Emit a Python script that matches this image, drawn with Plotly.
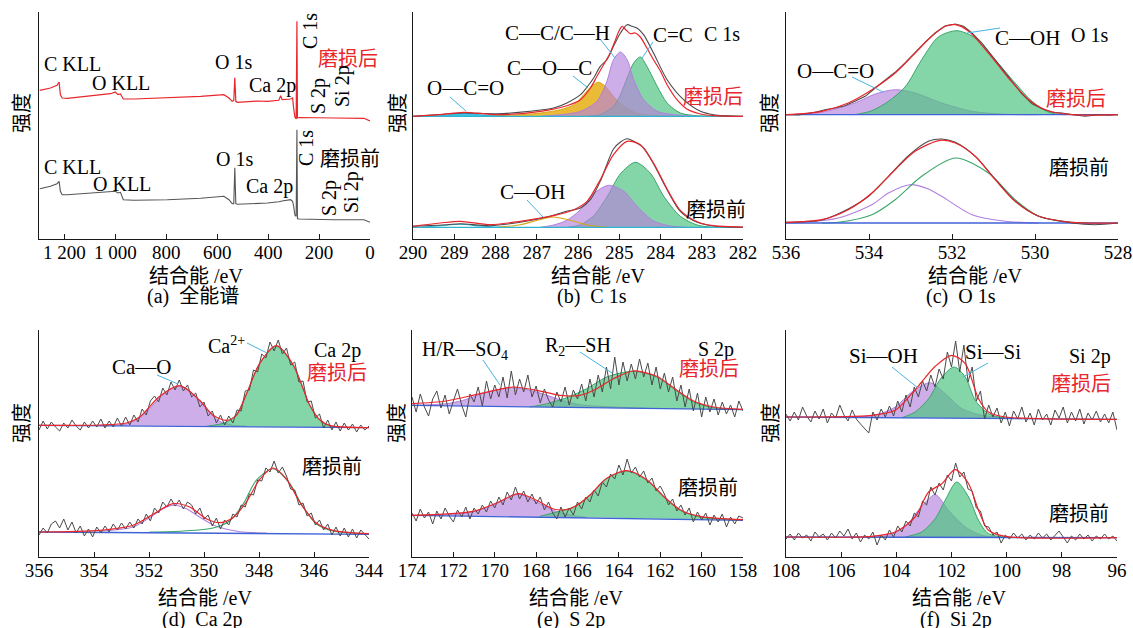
import numpy as np
import plotly.graph_objects as go

W, H = 1133, 628
SERIF = "Liberation Serif, Times New Roman, Noto Sans CJK SC, serif"
RED = "#e8262b"
GRAY = "#4a4a4a"
GREEN_F = "rgba(80,195,130,0.70)"
GREEN_L = "#3aa56a"
PURPLE_F = "rgba(180,130,220,0.65)"
PURPLE_L = "#b07fe0"
YELLOW_F = "rgba(230,175,20,0.85)"
YELLOW_L = "#d9a514"
CYAN_F = "rgba(40,190,230,0.90)"
CYAN_L = "#2bb5d8"
BLUE = "#3f63d6"
LEADER = "#45b3e0"

# ---------------- (a) survey spectra ----------------
survey_ev = [1297, 1255, 1229, 1221, 1216, 1209, 1189, 1111, 1019, 1000, 990, 980, 969, 927, 796, 665, 574,
             554, 541, 535, 531, 527, 521, 443, 403, 358, 351, 345, 312, 304, 300, 295, 290, 287, 285, 279,
             141, 24, 0]
survey_after = [148.7, 151, 153.7, 157, 144.3, 141, 140.7, 142.7, 145.3, 147, 144.3, 145, 140, 140, 141, 142.7,
                144.3, 141, 137.7, 138.5, 161.3, 137.7, 136.7, 138, 137.7, 138.7, 143.3, 139.3, 140, 141, 131,
                122, 120, 217.7, 121, 121.5, 121, 120.7, 118]
survey_before = [50.3, 52.7, 55.3, 57.7, 47.7, 44.3, 44.3, 46, 47.7, 47.7, 46, 46.7, 39.3, 38.7, 39.3, 40.7,
                 42.7, 39.3, 35.3, 35.3, 71.3, 35.3, 34.7, 35.3, 36, 37.3, 38, 38, 39.3, 37.7, 33, 24, 22.7,
                 109.3, 20.5, 20, 19.3, 19.3, 16.7]

# ---------------- (b) C 1s ----------------
b_top_cyan_x = [289.74, 289.18, 288.73, 288.29, 287.72]
b_top_cyan_y = [122.7, 123.7, 126.3, 123.7, 122.7]
b_top_yellow_x = [288.37, 287.40, 286.91, 286.43, 286.10, 285.86, 285.66, 285.50, 285.34, 285.14, 284.89,
                  284.57, 284.08, 283.52]
b_top_yellow_y = [122.7, 124.3, 126.0, 129.3, 134.3, 144.3, 153.3, 156.7, 152.7, 142.7, 132.7, 126.0, 123.3,
                  122.7]
b_top_purple_x = [286.91, 286.27, 285.94, 285.54, 285.30, 285.14, 284.97, 284.81, 284.65, 284.41, 284.08,
                  283.68, 283.11]
b_top_purple_y = [122.7, 125.0, 127.7, 137.7, 157.7, 179.3, 187.0, 179.3, 159.3, 139.3, 127.7, 124.3, 122.7]
b_top_green_x = [285.80, 285.46, 285.14, 284.97, 284.81, 284.65, 284.49, 284.33, 284.08, 283.84, 283.52,
                 283.11, 282.71]
b_top_green_y = [122.7, 124.3, 132.7, 144.3, 161.0, 176.0, 182.0, 172.7, 152.7, 136.0, 126.0, 123.3, 122.7]
b_top_fit_x = [290.00, 289.34, 288.77, 287.96, 286.91, 286.27, 285.94, 285.70, 285.54, 285.38, 285.22, 285.09,
               285.01, 284.93, 284.83, 284.73, 284.61, 284.49, 284.33, 284.17, 284.00, 283.84, 283.60, 283.36,
               283.03, 282.71, 282.00]
b_top_fit_y = [122.7, 124.3, 126.7, 124.3, 127.7, 133.3, 139.3, 151.0, 162.7, 174.3, 186.0, 199.3, 207.7, 212.7,
               208.7, 205.3, 206.0, 202.0, 191.0, 179.3, 167.7, 154.3, 139.3, 130.0, 125.0, 123.3, 122.7]
b_top_raw_x = [290.00, 289.18, 288.77, 287.96, 287.16, 286.59, 286.27, 285.94, 285.78, 285.62, 285.46, 285.30,
               285.14, 284.97, 284.81, 284.69, 284.57, 284.41, 284.17, 283.84, 283.44, 283.03, 282.71, 282.00]
b_top_raw_y = [122.7, 125.0, 126.0, 125.3, 127.7, 131.0, 136.0, 144.3, 152.0, 161.0, 172.7, 179.3, 192.7, 206.0,
               214.3, 212.7, 211.0, 204.3, 186.0, 159.3, 139.3, 127.7, 124.3, 122.7]
b_bot_cyan_x = [289.82, 289.34, 288.85, 288.37, 287.88]
b_bot_cyan_y = [11.7, 13.3, 14.7, 13.0, 11.7]
b_bot_yellow_x = [287.96, 287.40, 286.99, 286.59, 286.19, 285.78, 285.30]
b_bot_yellow_y = [11.7, 14.3, 18.7, 22.0, 18.7, 14.0, 11.7]
b_bot_purple_x = [286.91, 286.59, 286.27, 285.94, 285.62, 285.26, 284.89, 284.57, 284.17, 283.76, 283.36]
b_bot_purple_y = [11.7, 14.0, 18.7, 29.3, 45.3, 53.7, 47.7, 32.7, 18.0, 13.0, 11.7]
b_bot_green_x = [286.27, 285.94, 285.62, 285.30, 284.97, 284.61, 284.25, 283.92, 283.52, 283.11, 282.71]
b_bot_green_y = [11.7, 14.3, 23.3, 42.0, 65.3, 76.7, 66.0, 42.7, 22.7, 14.0, 11.7]
b_bot_fit_x = [290.00, 289.34, 288.85, 288.13, 287.40, 286.91, 286.59, 286.10, 285.78, 285.46, 285.14, 284.81,
               284.49, 284.17, 283.84, 283.52, 283.11, 282.71, 282.00]
b_bot_fit_y = [12.7, 16.0, 17.7, 14.3, 17.7, 21.0, 23.3, 29.3, 37.7, 59.3, 84.3, 97.7, 94.3, 76.0, 50.0, 28.7,
               17.3, 13.3, 12.0]
b_bot_raw_x = [290.00, 289.18, 288.85, 288.13, 287.40, 286.75, 286.27, 285.94, 285.70, 285.46, 285.14, 284.97,
               284.81, 284.65, 284.41, 284.17, 283.84, 283.52, 283.11, 282.71, 282.00]
b_bot_raw_y = [12.7, 14.3, 15.3, 13.3, 16.7, 22.0, 27.7, 31.0, 39.3, 57.7, 90.0, 97.0, 100.3, 97.7, 91.0, 75.3,
               49.3, 27.7, 16.7, 13.0, 11.7]

# ---------------- (c) O 1s ----------------
c_top_purple_x = [536.00, 535.14, 534.34, 533.85, 533.37, 532.89, 532.25, 531.52, 530.72, 529.91]
c_top_purple_y = [124.3, 126.7, 136.0, 145.0, 149.3, 146.0, 136.0, 127.7, 124.7, 124.3]
c_top_green_x = [534.34, 533.93, 533.53, 533.13, 532.73, 532.33, 531.88, 531.44, 530.96, 530.48, 530.07,
                 529.67, 529.27]
c_top_green_y = [124.3, 128.3, 137.7, 152.0, 179.3, 202.0, 208.3, 201.0, 179.3, 156.0, 137.7, 126.7, 124.3]
c_top_fit_x = [536.00, 535.14, 534.50, 533.93, 533.37, 532.89, 532.49, 532.16, 531.92, 531.60, 531.12, 530.64,
               530.15, 529.75, 529.11, 528.00]
c_top_fit_y = [124.3, 127.7, 136.0, 149.3, 166.0, 186.0, 202.7, 212.7, 214.3, 207.7, 186.0, 161.0, 139.3, 129.3,
               124.3, 124.3]
c_top_raw_x = [536.00, 535.70, 535.30, 535.06, 534.82, 534.58, 534.34, 534.09, 533.85, 533.61, 533.37, 533.13,
               532.89, 532.65, 532.41, 532.16, 531.92, 531.72, 531.52, 531.28, 531.04, 530.80, 530.56, 530.32,
               530.07, 529.83, 529.59, 529.35, 529.03, 528.79, 528.47, 528.23, 528.00]
c_top_raw_y = [124.3, 124.0, 126.7, 129.3, 131.0, 133.3, 137.7, 142.7, 151.0, 159.3, 166.7, 176.0, 186.7, 196.7,
               206.0, 213.3, 215.0, 212.7, 206.0, 196.0, 183.3, 171.0, 157.7, 145.3, 135.3, 130.3, 126.7, 126.0,
               124.0, 122.7, 124.3, 123.7, 124.3]
c_bot_purple_x = [536.00, 535.54, 534.74, 533.93, 533.53, 533.01, 532.57, 532.25, 531.52, 530.72, 529.91]
c_bot_purple_y = [16.0, 16.7, 21.0, 34.3, 46.0, 54.3, 50.0, 42.7, 24.3, 17.7, 16.0]
c_bot_green_x = [535.14, 534.74, 533.93, 533.37, 532.73, 531.92, 531.12, 530.48, 529.91, 529.11, 528.71]
c_bot_green_y = [16.0, 16.7, 24.3, 39.3, 62.7, 81.0, 66.0, 39.3, 22.7, 16.7, 16.0]
c_bot_fit_x = [536.00, 535.14, 534.50, 533.93, 533.37, 532.89, 532.29, 531.92, 531.44, 530.96, 530.48, 529.91,
               529.11, 528.00]
c_bot_fit_y = [16.7, 19.3, 29.3, 46.0, 69.3, 87.7, 98.7, 96.0, 82.7, 59.3, 37.7, 22.7, 16.7, 16.0]
c_bot_raw_x = [536.00, 535.14, 534.50, 534.01, 533.53, 533.05, 532.57, 532.25, 531.92, 531.44, 530.96, 530.48,
               529.91, 529.11, 528.55, 528.00]
c_bot_raw_y = [16.7, 19.0, 30.0, 42.7, 62.7, 83.3, 97.7, 100.0, 96.7, 82.7, 60.0, 38.0, 22.7, 16.0, 14.3, 16.0]

# ---------------- (d) Ca 2p ----------------
d_energy = np.linspace(356, 344, 81)
d_top_purple_x = [353.79, 352.82, 352.34, 351.98, 351.61, 351.25, 350.88, 350.52, 350.16, 349.79, 349.43,
                  348.95, 348.46]
d_top_purple_y = [131.3, 133.0, 139.3, 148.3, 159.3, 167.3, 170.7, 166.0, 156.0, 144.0, 135.7, 131.7, 131.0]
d_top_green_x = [349.92, 349.19, 348.82, 348.46, 347.98, 347.37, 346.76, 346.46, 346.16, 345.79, 345.43, 345.07]
d_top_green_y = [130.7, 134.7, 142.7, 162.7, 193.3, 210.7, 191.7, 173.3, 151.7, 136.7, 131.0, 129.7]
d_top_fit_x = [356.00, 353.79, 352.82, 352.34, 351.61, 350.88, 350.16, 349.67, 349.19, 348.82, 348.46, 347.98,
               347.37, 346.76, 346.16, 345.79, 345.43, 344.00]
d_top_fit_y = [131.7, 132.0, 134.0, 140.0, 160.7, 171.3, 156.7, 141.7, 136.7, 141.7, 162.7, 193.3, 211.3, 192.3,
               152.3, 137.3, 131.7, 129.3]
d_top_raw = [127, 136, 128, 135, 130, 126, 134, 129, 137, 131, 127, 135, 129, 136, 130, 138, 129, 136, 130, 139,
             131, 140, 132, 142, 135, 148, 142, 156, 161, 155, 169, 162, 175, 167, 177, 166, 172, 160, 164, 150,
             155, 141, 146, 134, 142, 132, 141, 134, 147, 146, 166, 167, 187, 185, 203, 199, 215, 206, 217, 203,
             209, 192, 195, 175, 176, 155, 156, 139, 143, 129, 137, 127, 135, 126, 134, 127, 133, 125, 132, 127,
             131]
d_bot_purple_x = [353.79, 352.58, 351.98, 351.49, 351.13, 350.64, 350.16, 349.55, 348.70, 347.73]
d_bot_purple_y = [25.7, 30.0, 39.3, 48.3, 51.7, 48.3, 40.0, 30.7, 25.3, 24.0]
d_bot_green_x = [351.98, 350.76, 349.67, 349.07, 348.58, 348.10, 347.49, 346.88, 346.40, 345.92, 345.31, 344.00]
d_bot_green_y = [25.0, 26.0, 29.0, 36.0, 52.7, 76.7, 88.3, 73.3, 50.0, 33.3, 26.0, 23.3]
d_bot_fit_x = [356.00, 353.79, 352.58, 351.85, 351.13, 350.52, 349.92, 349.43, 348.95, 348.46, 347.98, 347.49,
               347.01, 346.52, 345.92, 345.31, 344.00]
d_bot_fit_y = [25.0, 26.7, 31.7, 42.7, 53.3, 50.0, 38.3, 34.3, 39.3, 55.0, 77.3, 89.0, 78.3, 55.0, 34.0, 26.7,
               23.3]
d_bot_raw = [22, 29, 24, 33, 36, 29, 38, 27, 35, 24, 31, 21, 28, 20, 30, 24, 31, 25, 33, 27, 34, 28, 35, 29, 38,
             33, 43, 36, 49, 44, 55, 50, 58, 51, 57, 48, 55, 52, 43, 49, 38, 42, 31, 39, 28, 37, 32, 43, 40, 52,
             50, 63, 62, 77, 76, 89, 85, 96, 84, 90, 81, 68, 67, 52, 54, 41, 44, 32, 37, 27, 33, 22, 30, 21, 29,
             20, 28, 19, 27, 22, 18]

# ---------------- (e) S 2p ----------------
e_energy = np.linspace(174, 158, 81)
e_top_purple_x = [174.00, 172.34, 171.53, 170.40, 169.11, 167.98, 166.85, 165.88, 164.26, 162.65]
e_top_purple_y = [151.7, 153.3, 156.7, 164.7, 169.3, 165.0, 157.3, 152.3, 150.0, 148.7]
e_top_green_x = [168.30, 167.49, 166.52, 165.56, 164.59, 163.30, 162.17, 161.36, 160.39, 159.42, 158.00]
e_top_green_y = [150.0, 153.3, 159.3, 168.3, 180.0, 185.7, 180.0, 168.3, 155.0, 149.3, 147.3]
e_top_fit_x = [174.00, 172.34, 170.72, 169.11, 167.98, 166.85, 165.88, 165.07, 164.26, 163.30, 162.17, 161.36,
               160.39, 159.42, 158.00]
e_top_fit_y = [153.3, 156.0, 163.3, 170.0, 166.7, 161.7, 161.7, 168.3, 178.3, 186.0, 180.7, 169.3, 156.0, 150.0,
               147.7]
e_top_raw = [160, 145, 163, 150, 141, 158, 166, 149, 162, 143, 156, 168, 152, 140, 163, 155, 170, 151, 176, 158,
             172, 160, 180, 159, 186, 162, 178, 165, 182, 160, 171, 154, 168, 157, 150, 165, 155, 170, 152, 167,
             158, 173, 156, 178, 160, 182, 165, 190, 168, 200, 172, 195, 176, 193, 178, 198, 180, 194, 172, 190,
             168, 184, 165, 180, 156, 172, 150, 168, 146, 164, 140, 160, 145, 158, 142, 155, 143, 152, 140, 156,
             146]
e_bot_purple_x = [173.14, 171.05, 169.92, 168.87, 167.98, 167.17, 166.52, 165.56]
e_bot_purple_y = [41.4, 45.0, 53.3, 62.7, 55.0, 46.7, 42.7, 39.5]
e_bot_green_x = [167.82, 167.01, 166.20, 165.39, 164.59, 163.62, 162.65, 161.84, 161.04, 160.07, 158.00]
e_bot_green_y = [40.7, 45.0, 50.0, 61.7, 78.3, 86.0, 76.7, 60.0, 46.7, 40.0, 36.7]
e_bot_fit_x = [174.00, 171.05, 169.92, 168.87, 167.98, 167.17, 166.52, 166.04, 165.39, 164.59, 163.62, 162.65,
               161.84, 161.04, 160.07, 158.00]
e_bot_fit_y = [41.7, 45.7, 54.0, 63.3, 56.7, 48.0, 47.5, 51.5, 62.3, 78.7, 86.3, 77.3, 60.7, 47.3, 40.7, 37.3]
e_bot_raw = [44, 36, 48, 39, 45, 33, 46, 38, 49, 41, 35, 47, 40, 50, 38, 49, 43, 52, 45, 56, 49, 60, 52, 65, 57,
             70, 58, 66, 55, 63, 53, 60, 47, 55, 44, 38, 50, 40, 49, 42, 55, 48, 60, 55, 67, 61, 75, 70, 83, 78,
             92, 82, 98, 84, 90, 80, 86, 74, 79, 66, 71, 63, 52, 58, 46, 52, 42, 49, 35, 45, 37, 44, 32, 42, 35,
             43, 30, 40, 33, 41, 39]

# ---------------- (f) Si 2p ----------------
f_energy = np.linspace(108, 96, 81)
f_top_purple_x = [105.50, 104.65, 104.04, 103.44, 102.77, 102.23, 101.62, 100.90, 99.93]
f_top_purple_y = [140.0, 142.7, 150.0, 165.0, 174.3, 163.3, 148.3, 141.7, 139.0]
f_top_green_x = [103.80, 103.32, 102.83, 102.35, 101.90, 101.50, 101.14, 100.66, 100.17, 99.45]
f_top_green_y = [139.3, 145.0, 158.3, 180.0, 190.0, 180.0, 156.7, 143.3, 139.3, 138.3]
f_top_fit_x = [108.00, 104.89, 104.04, 103.44, 103.08, 102.59, 101.99, 101.50, 101.02, 100.66, 100.05, 96.00]
f_top_fit_y = [140.0, 141.7, 146.7, 163.3, 175.0, 190.7, 201.7, 193.3, 158.3, 145.0, 140.0, 137.7]
f_top_raw = [143, 136, 145, 137, 150, 141, 135, 146, 138, 148, 134, 144, 139, 152, 142, 136, 147, 138, 133, 128,
             124, 145, 137, 148, 140, 151, 141, 156, 145, 162, 150, 170, 160, 176, 166, 182, 170, 188, 178, 205,
             190, 216, 185, 212, 175, 190, 156, 166, 138, 152, 140, 149, 134, 145, 131, 146, 138, 150, 135, 144,
             132, 148, 137, 143, 132, 147, 139, 150, 134, 145, 136, 148, 133, 144, 137, 146, 135, 143, 134, 145,
             127]
f_bot_purple_x = [104.89, 104.29, 103.68, 103.20, 102.59, 102.11, 101.50, 100.90, 100.17]
f_bot_purple_y = [20.0, 21.7, 30.0, 46.7, 62.3, 46.7, 30.0, 21.7, 19.7]
f_bot_green_x = [103.68, 103.08, 102.59, 102.23, 101.81, 101.38, 101.02, 100.66, 99.93]
f_bot_green_y = [20.0, 25.0, 38.3, 56.7, 75.0, 60.0, 36.7, 23.3, 19.7]
f_bot_fit_x = [108.00, 104.89, 104.04, 103.32, 102.83, 102.35, 101.87, 101.38, 101.02, 100.66, 100.05, 96.00]
f_bot_fit_y = [20.0, 20.7, 25.0, 40.0, 65.0, 73.3, 87.3, 73.3, 46.7, 26.7, 20.7, 19.3]
f_bot_raw = [18, 23, 17, 24, 19, 22, 16, 25, 20, 23, 17, 24, 19, 26, 21, 28, 18, 24, 15, 22, 18, 25, 12, 22, 17,
             27, 20, 31, 25, 36, 31, 44, 40, 56, 52, 70, 62, 74, 67, 82, 76, 94, 80, 85, 68, 66, 49, 46, 31, 30,
             22, 25, 14, 22, 18, 24, 19, 23, 17, 22, 18, 24, 19, 23, 17, 22, 26, 20, 14, 21, 17, 23, 18, 22, 16,
             21, 18, 23, 18, 21, 16]

# baselines (start, end)
base = {
    "b": ([290, 282], [122.7, 122.7], [11.7, 11.7]),
    "c": ([536, 528], [124.3, 124.3], [16.0, 16.0]),
    "d": ([356, 344], [131.7, 129.3], [25.0, 22.7]),
    "e": ([174, 158], [151.7, 147.3], [41.7, 36.7]),
    "f": ([108, 96], [140.0, 137.7], [20.0, 19.3]),
}

# tick labels
ticks = {
    "a": ([1200, 1000, 800, 600, 400, 200, 0], ["1 200", "1 000", "800", "600", "400", "200", "0"]),
    "b": ([290, 289, 288, 287, 286, 285, 284, 283, 282], None),
    "c": ([536, 534, 532, 530, 528], None),
    "d": ([356, 354, 352, 350, 348, 346, 344], None),
    "e": ([174, 172, 170, 168, 166, 164, 162, 160, 158], None),
    "f": ([108, 106, 104, 102, 100, 98, 96], None),
}

# ---------------- layout geometry (pixels) ----------------
panels = {
    # key: (suffix, range, left, right, top, bottom)
    "a": ("", [1300, 0], 39, 370, 12, 239),
    "b": ("2", [290, 282], 413, 743, 12, 239),
    "c": ("3", [536, 528], 786, 1118, 12, 239),
    "d": ("4", [356, 344], 39, 369, 330, 557),
    "e": ("5", [174, 158], 412, 743, 330, 557),
    "f": ("6", [108, 96], 786, 1117, 330, 557),
}

fig = go.Figure()


def curve(p, x, y, color, width=1.0, smooth=True, fill=None):
    s = panels[p][0]
    kw = dict(x=list(x), y=list(y), mode="lines", xaxis="x" + s, yaxis="y" + s,
              line=dict(color=color, width=width, shape="spline" if smooth else "linear", smoothing=0.8),
              hoverinfo="skip", showlegend=False)
    if fill:
        kw.update(fill="toself", fillcolor=fill)
    fig.add_trace(go.Scatter(**kw))


# (a)
curve("a", survey_ev, survey_before, "#555555", 1.1, smooth=False)
curve("a", survey_ev, survey_after, RED, 1.2, smooth=False)

# (b)
curve("b", b_top_yellow_x, b_top_yellow_y, YELLOW_L, 1, fill=YELLOW_F)
curve("b", b_top_cyan_x, b_top_cyan_y, CYAN_L, 1, fill=CYAN_F)
curve("b", b_top_green_x, b_top_green_y, GREEN_L, 1, fill=GREEN_F)
curve("b", b_top_purple_x, b_top_purple_y, PURPLE_L, 1, fill=PURPLE_F)
curve("b", b_bot_green_x, b_bot_green_y, GREEN_L, 1, fill=GREEN_F)
curve("b", b_bot_purple_x, b_bot_purple_y, PURPLE_L, 1, fill=PURPLE_F)
curve("b", b_bot_yellow_x, b_bot_yellow_y, YELLOW_L, 1.1)
curve("b", b_bot_cyan_x, b_bot_cyan_y, CYAN_L, 1.1)
curve("b", base["b"][0], base["b"][1], "#2fb3cf", 1.3, smooth=False)
curve("b", base["b"][0], base["b"][2], "#2fb3cf", 1.3, smooth=False)
curve("b", b_top_raw_x, b_top_raw_y, GRAY, 1.1)
curve("b", b_top_fit_x, b_top_fit_y, RED, 1.2)
curve("b", b_bot_raw_x, b_bot_raw_y, GRAY, 1.1)
curve("b", b_bot_fit_x, b_bot_fit_y, RED, 1.2)

# (c)
curve("c", c_top_purple_x, c_top_purple_y, PURPLE_L, 1, fill=PURPLE_F)
curve("c", c_top_green_x, c_top_green_y, GREEN_L, 1, fill=GREEN_F)
curve("c", c_bot_purple_x, c_bot_purple_y, PURPLE_L, 1.1)
curve("c", c_bot_green_x, c_bot_green_y, GREEN_L, 1.1)
curve("c", base["c"][0], base["c"][1], BLUE, 1.3, smooth=False)
curve("c", base["c"][0], base["c"][2], BLUE, 1.3, smooth=False)
curve("c", c_top_raw_x, c_top_raw_y, GRAY, 1.1, smooth=False)
curve("c", c_top_fit_x, c_top_fit_y, RED, 1.2)
curve("c", c_bot_raw_x, c_bot_raw_y, GRAY, 1.1)
curve("c", c_bot_fit_x, c_bot_fit_y, RED, 1.2)

# (d)
curve("d", d_top_purple_x, d_top_purple_y, PURPLE_L, 1, fill=PURPLE_F)
curve("d", d_top_green_x, d_top_green_y, GREEN_L, 1, fill=GREEN_F)
curve("d", d_bot_purple_x, d_bot_purple_y, PURPLE_L, 1.1)
curve("d", d_bot_green_x, d_bot_green_y, GREEN_L, 1.1)
curve("d", base["d"][0], base["d"][1], BLUE, 1.3, smooth=False)
curve("d", base["d"][0], base["d"][2], BLUE, 1.3, smooth=False)
curve("d", d_energy, d_top_raw, GRAY, 1, smooth=False)
curve("d", d_top_fit_x, d_top_fit_y, RED, 1.2)
curve("d", d_energy, d_bot_raw, GRAY, 1, smooth=False)
curve("d", d_bot_fit_x, d_bot_fit_y, RED, 1.2)

# (e)
curve("e", e_top_purple_x, e_top_purple_y, PURPLE_L, 1, fill=PURPLE_F)
curve("e", e_top_green_x, e_top_green_y, GREEN_L, 1, fill=GREEN_F)
curve("e", e_bot_purple_x, e_bot_purple_y, PURPLE_L, 1, fill=PURPLE_F)
curve("e", e_bot_green_x, e_bot_green_y, GREEN_L, 1, fill=GREEN_F)
curve("e", base["e"][0], base["e"][1], BLUE, 1.3, smooth=False)
curve("e", base["e"][0], base["e"][2], BLUE, 1.3, smooth=False)
curve("e", e_energy, e_top_raw, GRAY, 1, smooth=False)
curve("e", e_top_fit_x, e_top_fit_y, RED, 1.2)
curve("e", e_energy, e_bot_raw, GRAY, 1, smooth=False)
curve("e", e_bot_fit_x, e_bot_fit_y, RED, 1.2)

# (f)
curve("f", f_top_purple_x, f_top_purple_y, PURPLE_L, 1, fill=PURPLE_F)
curve("f", f_top_green_x, f_top_green_y, GREEN_L, 1, fill=GREEN_F)
curve("f", f_bot_purple_x, f_bot_purple_y, PURPLE_L, 1, fill=PURPLE_F)
curve("f", f_bot_green_x, f_bot_green_y, GREEN_L, 1, fill=GREEN_F)
curve("f", base["f"][0], base["f"][1], BLUE, 1.3, smooth=False)
curve("f", base["f"][0], base["f"][2], BLUE, 1.3, smooth=False)
curve("f", f_energy, f_top_raw, GRAY, 1, smooth=False)
curve("f", f_top_fit_x, f_top_fit_y, RED, 1.2)
curve("f", f_energy, f_bot_raw, GRAY, 1, smooth=False)
curve("f", f_bot_fit_x, f_bot_fit_y, RED, 1.2)

# ---------------- axes ----------------
layout = dict(width=W, height=H, margin=dict(l=0, r=0, t=0, b=0, autoexpand=False), paper_bgcolor="white",
              plot_bgcolor="white", showlegend=False, font=dict(family=SERIF, color="black"))
for k, (s, rng, l, r, t, b) in panels.items():
    tv, tt = ticks[k]
    xa = dict(domain=[l / W, r / W], range=rng, anchor="y" + s, showline=True, linecolor="#1a1a1a",
              linewidth=1.2, ticks="inside", ticklen=5, tickcolor="#1a1a1a", tickwidth=1, tickvals=tv,
              showgrid=False, zeroline=False, automargin=False, ticklabelstandoff=-4,
              tickfont=dict(family=SERIF, size=19, color="black"))
    if tt:
        xa["ticktext"] = tt
    ya = dict(domain=[1 - b / H, 1 - t / H], range=[0, 227], anchor="x" + s, showline=True,
              linecolor="#1a1a1a", linewidth=1.2, ticks="", showticklabels=False, showgrid=False,
              zeroline=False, automargin=False)
    layout["xaxis" + s] = xa
    layout["yaxis" + s] = ya
fig.update_layout(**layout)


def text(x, y, s, color="black", size=20, angle=0):
    fig.add_annotation(x=x / W, y=1 - y / H, xref="paper", yref="paper", text=s, showarrow=False,
                       font=dict(family=SERIF, size=size, color=color), textangle=angle,
                       xanchor="center", yanchor="middle")


def leader(x0, y0, x1, y1):
    fig.add_shape(type="line", xref="paper", yref="paper", x0=x0 / W, y0=1 - y0 / H, x1=x1 / W,
                  y1=1 - y1 / H, line=dict(color=LEADER, width=1))


# axis titles and captions
for cx, yy in [(196, 276), (598, 276), (975, 276), (205, 598), (576, 598), (959, 598)]:
    text(cx, yy, "结合能 /eV")
for cx, yy, s in [(193, 296, "(a)\u00a0\u00a0全能谱"), (592, 296, "(b)\u00a0\u00a0C 1s"),
                  (961, 296, "(c)\u00a0\u00a0O 1s"), (202, 619, "(d)\u00a0\u00a0Ca 2p"),
                  (571, 619, "(e)\u00a0\u00a0S 2p"), (956, 619, "(f)\u00a0\u00a0Si 2p")]:
    text(cx, yy, s)
for xx, yy in [(22, 113), (398, 113), (770, 113), (22, 423), (397, 423), (771, 423)]:
    text(xx, yy, "强度", angle=-90)

# (a) labels
text(72, 64, "C KLL"); text(121, 83, "O KLL"); text(233, 62, "O 1s"); text(272, 85, "Ca 2p")
text(310, 31, "C 1s", angle=-90); text(348, 59, "磨损后", color=RED)
text(319, 96, "S 2p", angle=-90); text(343, 86, "Si 2p", angle=-90)
text(72, 167, "C KLL"); text(122, 184, "O KLL"); text(234, 159, "O 1s"); text(269, 186, "Ca 2p")
text(306, 148, "C 1s", angle=-90); text(350, 159, "磨损前")
text(329, 198, "S 2p", angle=-90); text(352, 192, "Si 2p", angle=-90)

# (b) labels
text(557, 33, "C—C/C—H", size=21); text(549, 68, "C—O—C", size=21); text(465, 88, "O—C=O", size=21)
text(673, 35, "C=C", size=21)
text(722, 34, "C 1s"); text(713, 97, "磨损后", color=RED); text(532, 192, "C—OH", size=21)
text(716, 210, "磨损前")
leader(450, 97, 466, 111); leader(573, 76, 588, 88); leader(600, 39, 615, 58); leader(653, 42, 642, 58)
leader(527, 200, 543, 217)

# (c) labels
text(1027, 38, "C—OH", size=21); text(1089, 35, "O 1s"); text(835, 71, "O—C=O", size=21)
text(1076, 99, "磨损后", color=RED); text(1079, 168, "磨损前")
leader(1000, 28, 967, 33); leader(852, 77, 883, 92)

# (d) labels
text(142, 367, "Ca—O", size=21); text(226, 345, "Ca<sup>2+</sup>"); text(337, 350, "Ca 2p")
text(337, 373, "磨损后", color=RED); text(332, 467, "磨损前")
leader(157, 375, 178, 384); leader(247, 343, 267, 353)

# (e) labels
text(465, 350, "H/R—SO<sub>4</sub>"); text(578, 346, "R<sub>2</sub>—SH"); text(716, 349, "S 2p")
text(709, 369, "磨损后", color=RED); text(708, 488, "磨损前")
leader(483, 360, 500, 385); leader(580, 352, 612, 373)

# (f) labels
text(883, 356, "Si—OH", size=21); text(993, 352, "Si—Si", size=21); text(1090, 356, "Si 2p")
text(1081, 384, "磨损后", color=RED); text(1079, 514, "磨损前")
leader(892, 367, 918, 388); leader(988, 363, 963, 377)

fig.write_html("out.html", config={"displayModeBar": False},
               post_script="document.body.style.margin='0';document.body.style.overflow='hidden';")
